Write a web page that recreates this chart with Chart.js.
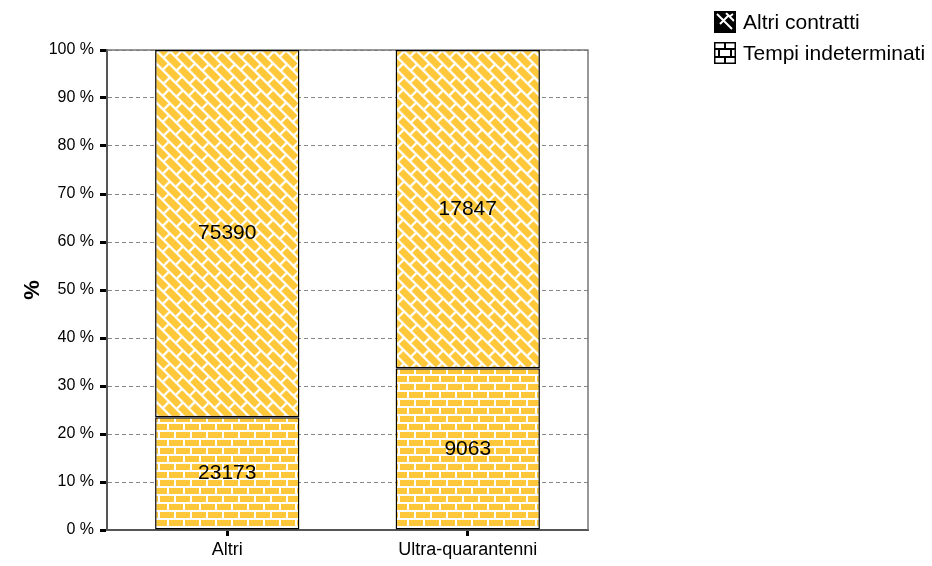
<!DOCTYPE html>
<html lang="it">
<head>
<meta charset="UTF-8">
<title>Contratti</title>
<script src="https://cdn.jsdelivr.net/npm/chart.js"></script>
<style>
  body { margin: 0; background: #fff; }
  #wrap { width: 932px; height: 566px; }
</style>
</head>
<body>
<div id="wrap"><canvas id="chart"></canvas></div>
<script>
// data
const categories = ['Altri', 'Ultra-quarantenni'];
const tempiIndeterminati = [23173, 9063];
const altriContratti = [75390, 17847];
const seriesNames = ['Altri contratti', 'Tempi indeterminati'];
const yTicks = [0, 10, 20, 30, 40, 50, 60, 70, 80, 90, 100];

const totals = categories.map((c, i) => tempiIndeterminati[i] + altriContratti[i]);
const pct = arr => arr.map((v, i) => v / totals[i] * 100);
const FONT = '"Liberation Sans", Arial, sans-serif';

// brick tile, fg = brick colour, bg = mortar colour
function brickTile(fg, bg) {
    const c = document.createElement('canvas');
    c.width = 16; c.height = 16;
    const g = c.getContext('2d');
    g.fillStyle = bg; g.fillRect(0, 0, 16, 16);
    g.fillStyle = fg;
    g.fillRect(0, 0, 14, 6);
    g.fillRect(9, 8, 14, 6);
    g.fillRect(-7, 8, 14, 6);
    return c;
}

const ctx = document.getElementById('chart').getContext('2d');
const yellow = '#FFC83A';
const brickPat = ctx.createPattern(brickTile(yellow, '#fff'), 'repeat');
const diagPat = ctx.createPattern(brickTile(yellow, '#fff'), 'repeat');
diagPat.setTransform(new DOMMatrix().rotateSelf(45).scaleSelf(1.15));

const frame = {
    id: 'frame',
    beforeDatasetsDraw(chart) {
        const a = chart.chartArea, g = chart.ctx;
        g.save();
        g.strokeStyle = '#777'; g.lineWidth = 1.5;
        g.beginPath();
        g.moveTo(a.left, a.top); g.lineTo(a.right, a.top); g.lineTo(a.right, a.bottom);
        g.stroke();
        g.restore();
    },
    afterDraw(chart) {
        const g = chart.ctx;
        g.save();
        // value labels
        g.fillStyle = '#000';
        g.font = '21px ' + FONT;
        g.textAlign = 'center'; g.textBaseline = 'middle';
        const raw = [tempiIndeterminati, altriContratti];
        chart.data.datasets.forEach((ds, di) => {
            chart.getDatasetMeta(di).data.forEach((bar, i) => {
                const y = (bar.y + bar.base) / 2;
                g.fillText(String(raw[di][i]), bar.x, y);
            });
        });
        // legend
        g.font = '21px ' + FONT;
        g.textAlign = 'left';
        const lx = 714, bw = 22, bh = 22, tops = [11, 42];
        seriesNames.forEach((name, i) => {
            const t = tops[i];
            g.save();
            g.beginPath(); g.rect(lx, t, bw, bh); g.clip();
            g.fillStyle = i === 0 ? '#000' : '#fff';
            g.fillRect(lx, t, bw, bh);
            g.strokeStyle = i === 0 ? '#fff' : '#000';
            g.lineWidth = 2;
            g.beginPath();
            if (i === 0) {
                g.moveTo(lx + 3, t + 3); g.lineTo(lx + 18, t + 18);
                g.moveTo(lx + 12, t + 2); g.lineTo(lx + 20, t + 10);
                g.moveTo(lx + 6, t + 13); g.lineTo(lx + 14, t + 5);
                g.moveTo(lx + 15, t + 6); g.lineTo(lx + 19, t + 3);
            } else {
                g.moveTo(lx, t + 7); g.lineTo(lx + bw, t + 7);
                g.moveTo(lx, t + 15); g.lineTo(lx + bw, t + 15);
                g.moveTo(lx + 11, t); g.lineTo(lx + 11, t + 7);
                g.moveTo(lx + 5, t + 7); g.lineTo(lx + 5, t + 15);
                g.moveTo(lx + 17, t + 7); g.lineTo(lx + 17, t + 15);
                g.moveTo(lx + 11, t + 15); g.lineTo(lx + 11, t + bh);
            }
            g.stroke();
            g.restore();
            g.strokeStyle = '#000'; g.lineWidth = 1.5;
            g.strokeRect(lx + 0.75, t + 0.75, bw - 1.5, bh - 1.5);
            g.fillStyle = '#000';
            g.fillText(name, lx + 29, t + bh / 2 + 1);
        });
        g.restore();
    }
};

new Chart(ctx, {
    type: 'bar',
    data: {
        labels: categories,
        datasets: [
            {
                label: seriesNames[1],
                data: pct(tempiIndeterminati),
                backgroundColor: brickPat,
                borderColor: '#000',
                borderWidth: 1.5,
                borderSkipped: false,
                categoryPercentage: 1,
                barPercentage: 0.6
            },
            {
                label: seriesNames[0],
                data: pct(altriContratti),
                backgroundColor: diagPat,
                borderColor: '#000',
                borderWidth: 1.5,
                borderSkipped: false,
                categoryPercentage: 1,
                barPercentage: 0.6
            }
        ]
    },
    options: {
        responsive: true,
        maintainAspectRatio: false,
        animation: false,
        layout: { padding: { left: 14, right: 344, top: 50, bottom: 0 } },
        plugins: { legend: { display: false }, tooltip: { enabled: false } },
        scales: {
            x: {
                stacked: true,
                grid: { display: true, offset: false, drawOnChartArea: false, tickLength: 6, tickWidth: 3, tickColor: '#000' },
                border: { color: '#555', width: 2 },
                ticks: { color: '#000', font: { size: 18, family: FONT }, padding: 3 },
                afterFit(s) { s.height = 36; }
            },
            y: {
                stacked: true,
                min: 0, max: 100,
                afterBuildTicks(s) { s.ticks = yTicks.map(v => ({ value: v })); },
                grid: { color: '#888', lineWidth: 1, tickLength: 7, tickWidth: 3, tickColor: '#000', tickBorderDash: [] },
                border: { color: '#555', width: 2, dash: [4, 3] },
                ticks: {
                    color: '#000',
                    font: { size: 16, family: FONT },
                    padding: 6,
                    callback: v => v + ' %'
                },
                title: {
                    display: true, text: '%', color: '#000',
                    font: { size: 22, weight: 'bold', family: FONT },
                    padding: 6
                },
                afterFit(s) { s.width = 93; }
            }
        }
    },
    plugins: [frame]
});
</script>
</body>
</html>
